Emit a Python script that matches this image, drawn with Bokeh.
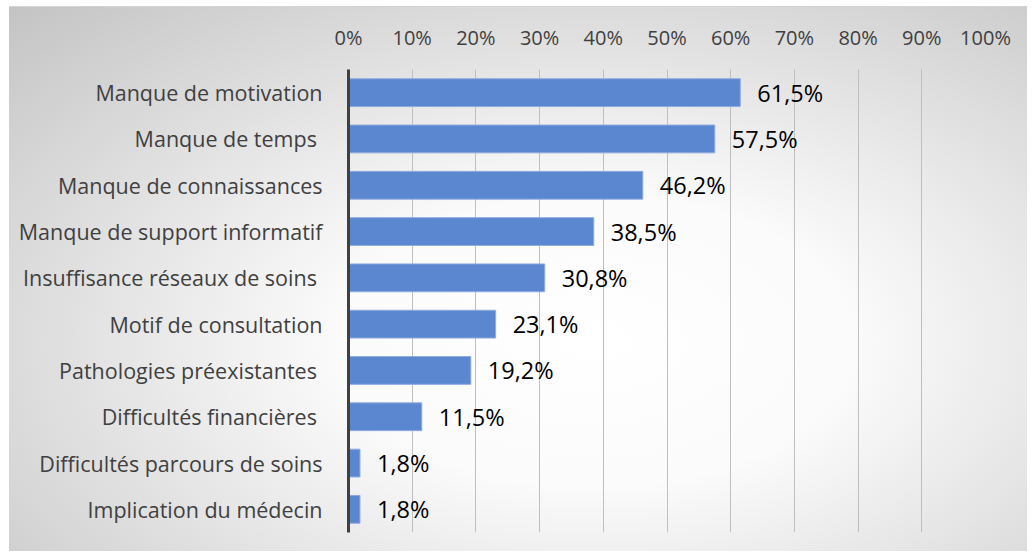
from bokeh.plotting import figure
from bokeh.models import ColumnDataSource, FactorRange, Range1d, FixedTicker, NumeralTickFormatter
from bokeh.core.properties import value
from bokeh.embed import file_html
from bokeh.resources import INLINE

categories = [
    "Manque de motivation",
    "Manque de temps ",
    "Manque de connaissances",
    "Manque de support informatif",
    "Insuffisance réseaux de soins ",
    "Motif de consultation",
    "Pathologies préexistantes ",
    "Difficultés financières ",
    "Difficultés parcours de soins",
    "Implication du médecin",
]
values = [0.615, 0.575, 0.462, 0.385, 0.308, 0.231, 0.192, 0.115, 0.018, 0.018]
value_labels = ["61,5%", "57,5%", "46,2%", "38,5%", "30,8%", "23,1%", "19,2%", "11,5%", "1,8%", "1,8%"]
tick_values = [0.0, 0.1, 0.2, 0.3, 0.4, 0.5, 0.6, 0.7, 0.8, 0.9, 1.0]

source = ColumnDataSource(data=dict(cat=categories, val=values, lab=value_labels))

W, H = 1027, 551
p = figure(
    width=W, height=H,
    y_range=FactorRange(factors=list(reversed(categories)), range_padding=0),
    x_range=Range1d(0, 1),
    x_axis_location="above",
    output_backend="svg",
    toolbar_location=None,
    min_border_left=348, min_border_right=42,
    min_border_top=69, min_border_bottom=19,
)
p.styles = {
    "background": (
        "linear-gradient(#ffffff,#ffffff) 0 0 / 100% 6px no-repeat, "
        "linear-gradient(#ffffff,#ffffff) 0 0 / 9px 100% no-repeat, "
        "linear-gradient(#d4d4d4,#d4d4d4) 9px 6px / 100% 1px no-repeat, "
        "radial-gradient(ellipse farthest-corner at 58% 62%, #ffffff 0%, #fbfbfb 30%, #c2c2c2 100%)"
    ),
}
p.background_fill_alpha = 0
p.border_fill_alpha = 0
p.outline_line_color = None

p.hbar(y="cat", right="val", left=0, height=0.6, source=source,
       fill_color="#5a87cf", line_color="#8eaadf", line_width=1)

p.text(x="val", y="cat", text="lab", source=source, x_offset=17,
       text_baseline="middle", text_align="left",
       text_font=value("Open Sans"), text_font_size="23.5px", text_color="#000000")

# top axis
xa = p.xaxis[0]
xa.ticker = FixedTicker(ticks=tick_values)
xa.formatter = NumeralTickFormatter(format="0%")
xa.axis_line_color = None
xa.major_tick_line_color = None
xa.minor_tick_line_color = None
xa.major_label_standoff = 13
xa.major_label_text_font = "Open Sans"
xa.major_label_text_font_size = "20px"
xa.major_label_text_color = "#404040"

# left axis
ya = p.yaxis[0]
ya.axis_line_color = "#404040"
ya.axis_line_width = 3
ya.major_tick_line_color = None
ya.minor_tick_line_color = None
ya.major_label_standoff = 20
ya.major_label_text_font = "Open Sans"
ya.major_label_text_font_size = "21.5px"
ya.major_label_text_color = "#404040"

p.xgrid.ticker = FixedTicker(ticks=tick_values[1:])
p.xgrid.grid_line_color = "#bfbfbf"
p.xgrid.grid_line_width = 1
p.ygrid.grid_line_color = None

open("out.html", "w").write(file_html(p, INLINE))
